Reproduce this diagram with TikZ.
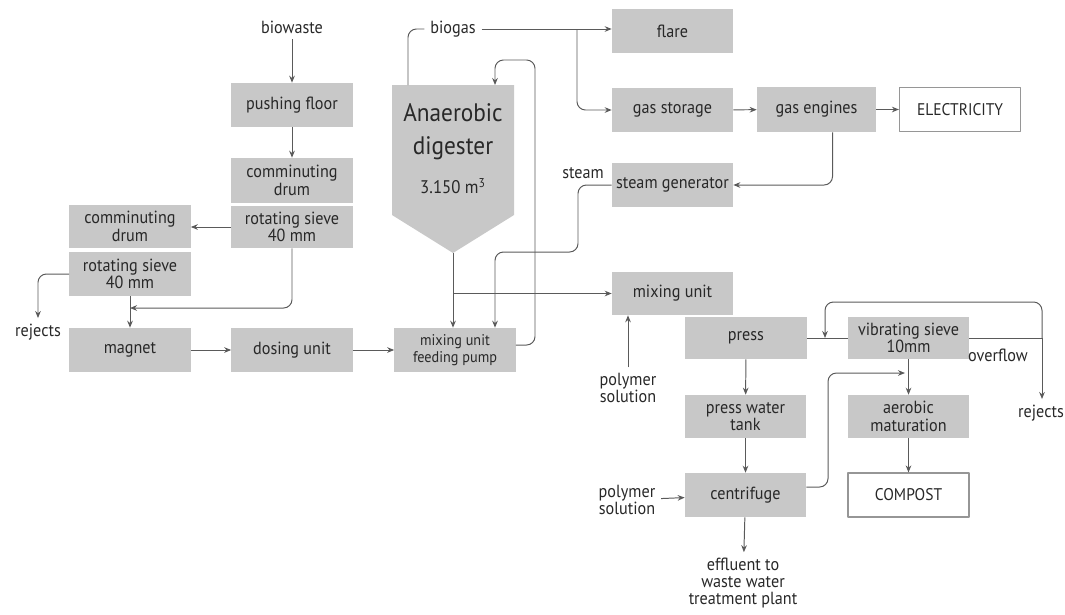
\documentclass[tikz,border=0pt]{standalone}
\usepackage{fontspec}
\setmainfont{PT Sans}[FakeStretch=0.92]
\usetikzlibrary{calc,arrows.meta}
\definecolor{boxgray}{RGB}{200,200,200}
\definecolor{inkgray}{RGB}{40,40,40}
\definecolor{wiregray}{RGB}{90,90,90}
\begin{document}
\begin{tikzpicture}[x=0.025cm,y=-0.025cm,>={Stealth[length=5pt,width=4pt]},line join=round,
    box/.style={fill=boxgray,minimum width=3.025cm,minimum height=1.1cm,inner sep=0pt,align=center,
      text=inkgray,font=\fontsize{12.5}{12.5}\selectfont},
    outbox/.style={box,fill=white,draw=boxgray!75!black,line width=0.8pt},
    lbl/.style={align=center,text=inkgray,inner sep=4pt,font=\fontsize{12.5}{12}\selectfont},
    flow/.style={->,draw=wiregray,line width=0.7pt},
    wire/.style={draw=wiregray,line width=0.7pt}]
    \useasboundingbox (0,0) rectangle (1065,614);
    % pretreatment
    \node[lbl] (biowaste) at (292,27) {biowaste};
    \node[box] (pushfloor) at (292,105) {pushing floor};
    \node[box,minimum height=1.125cm] (drumA) at (292,180.5) {comminuting\\drum};
    \node[box,minimum height=1.05cm] (sieveA) at (292,227) {rotating sieve\\40 mm};
    \node[box,minimum height=1.075cm] (drumB) at (130,226.5) {comminuting\\drum};
    \node[box] (sieveB) at (130,274) {rotating sieve\\40 mm};
    \node[lbl] (rejectsA) at (38,332) {rejects};
    \node[box] (magnet) at (130,350) {magnet};
    \node[box] (dosing) at (292,350) {dosing unit};
    \node[box,font=\fontsize{11}{12}\selectfont] (pump) at (455,350) {mixing unit\\feeding pump};
    % digester
    \fill[boxgray] (392,85) -- (514,85) -- (514,215) -- (453,253) -- (392,215) -- cycle;
    \node[text=inkgray,align=center,font=\fontsize{18}{23.5}\selectfont] (digester) at (453,132) {Anaerobic\\digester};
    \node[text=inkgray,font=\fontsize{13}{13}\selectfont] (volume) at (453,186) {3.150 m\textsuperscript{3}};
    \coordinate (dtip) at (453,253);
    \coordinate (gasout) at (408,85);
    \coordinate (retin) at (495,85);
    % gas line
    \node[lbl] (biogas) at (453,29) {biogas};
    \node[box] (flare) at (672.5,31) {flare};
    \node[box] (gasstore) at (672.5,110) {gas storage};
    \node[box,minimum width=2.975cm,minimum height=1.125cm] (engines) at (816.5,109.5) {gas engines};
    \node[outbox,font=\fontsize{12}{12}\selectfont] (power) at (960,109.5) {ELECTRICITY};
    \node[box] (steamgen) at (672.5,185) {steam generator};
    \node[lbl] (steam) at (583,173) {steam};
    % dewatering
    \node[box,minimum height=1.075cm] (mixing) at (672.5,293.5) {mixing unit};
    \node[box,minimum height=1.05cm] (press) at (746,338) {press};
    \node[lbl] (polyA) at (628,388) {polymer\\solution};
    \node[box,minimum height=1.05cm] (vsieve) at (908.5,338) {vibrating sieve\\10mm};
    \node[lbl] (overflow) at (998,355) {overflow};
    \node[lbl] (rejectsB) at (1041,413) {rejects};
    \node[box,minimum height=1.075cm] (pwtank) at (745.5,416.5) {press water\\tank};
    \node[box,minimum height=1.075cm] (aerobic) at (908.5,416.5) {aerobic\\maturation};
    \node[box] (centrifuge) at (745.5,495) {centrifuge};
    \node[outbox,font=\fontsize{12}{12}\selectfont] (compost) at (908.5,495) {COMPOST};
    \node[lbl] (polyB) at (627,500) {polymer\\solution};
    \node[lbl] (effluent) at (743,583) {effluent to\\waste water\\treatment plant};
    % connectors
    \draw[flow] (biowaste) -- (pushfloor);
    \draw[flow] (pushfloor) -- (drumA);
    \draw[flow] (sieveA.west) -- (sieveA.west -| drumB.east);
    \draw[flow,rounded corners=6pt] (sieveB.west) -| (rejectsA.north);
    \draw[flow] (sieveB) -- (magnet);
    \coordinate (joinA) at (130,308);
    \draw[flow,rounded corners=6pt] (sieveA.south) |- (joinA);
    \draw[flow] (magnet) -- (dosing);
    \draw[flow] (dosing) -- (pump);
    \draw[flow,rounded corners=6pt] ($(pump.east)+(0,-5)$) -| (535,60) -| (retin);
    \draw[wire,rounded corners=6pt] (gasout) |- (biogas.west);
    \draw[flow] (biogas.east) -- (biogas.east -| flare.west);
    \coordinate (gsplit) at (biogas.east -| 577,0);
    \draw[flow,rounded corners=6pt] (gsplit) |- (gasstore.west);
    \draw[flow] (gasstore) -- (engines);
    \draw[flow] (engines) -- (power);
    \draw[flow,rounded corners=6pt] ($(engines.south)+(16,0)$) |- (steamgen.east);
    \draw[flow,rounded corners=6pt] (steamgen.west) -| (578,252) -| ($(pump.north)+(40,0)$);
    \draw[flow] (dtip) -- (dtip |- pump.north);
    \coordinate (msplit) at (dtip |- mixing.west);
    \draw[flow] (msplit) -- (mixing.west);
    \draw[flow] (polyA.north) -- (polyA.north |- mixing.south);
    \draw[wire] (press.east) -- (vsieve.west);
    \coordinate (vjoin) at (vsieve.east -| 1042,0);
    \coordinate (vret) at (press.east -| 825,0);
    \draw[wire] (vsieve.east) -- (vjoin);
    \draw[flow] (vjoin) -- (rejectsB.north -| vjoin);
    \draw[flow,rounded corners=6pt] (vjoin) |- (825,302) -- (vret);
    \draw[flow] (vsieve) -- (aerobic);
    \draw[flow] (aerobic) -- (compost);
    \draw[flow] (press) -- (pwtank);
    \draw[flow] (pwtank) -- (centrifuge);
    \draw[flow,rounded corners=6pt] ($(centrifuge.east)+(0,-8)$) -| (828,373) -- (905,373);
    \draw[flow] (polyB) -- (centrifuge);
    \draw[flow] (centrifuge) -- (effluent);
\end{tikzpicture}
\end{document}
